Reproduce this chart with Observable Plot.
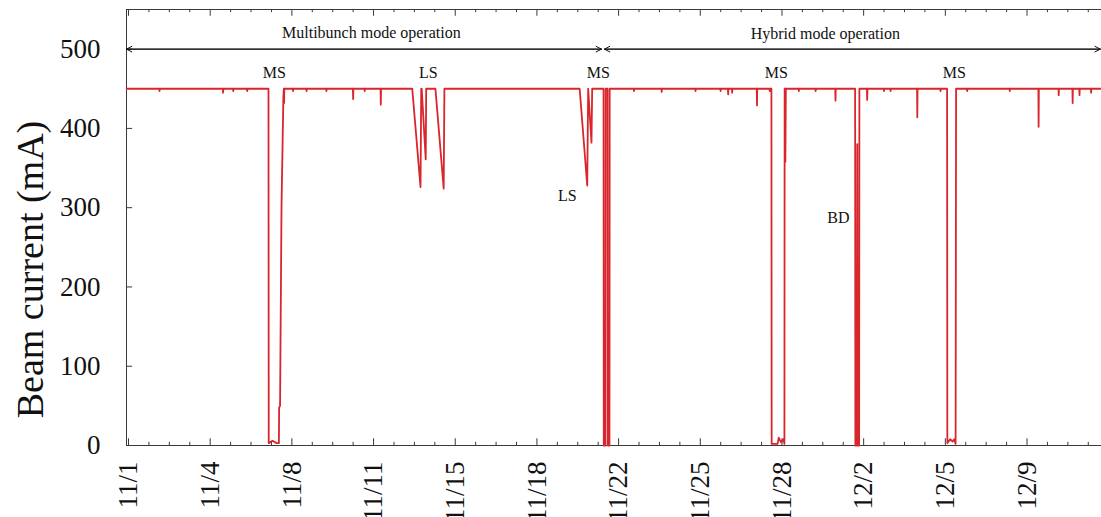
<!DOCTYPE html>
<html>
<head>
<meta charset="utf-8">
<script src="https://cdn.jsdelivr.net/npm/d3@7"></script>
<script src="https://cdn.jsdelivr.net/npm/@observablehq/plot@0.6"></script>
<style>
  html, body { margin: 0; padding: 0; background: #fff; overflow: hidden; }
  #chart svg { display: block; }
</style>
</head>
<body>
<div id="chart"></div>
<script>
// Time in days since 11/1 00:00 (one x-tick step = 38/11 days)
const timeDays = [
  -0.08,
  1.30, 1.31, 1.32,
  3.99, 4.00, 4.01,
  4.42, 4.43, 4.44,
  5.01, 5.02, 5.03,
  5.92, 5.93, 6.09, 6.26, 6.36, 6.37, 6.41, 6.47, 6.55, 6.57, 6.58, 6.59,
  6.95, 6.96, 6.97,
  7.52, 7.53, 7.54,
  8.36, 8.37, 8.38,
  9.49, 9.50, 9.51,
  9.98, 9.99, 10.00,
  10.66, 10.67, 10.68,
  12.00, 12.35, 12.38, 12.40, 12.57, 12.59,
  12.98, 13.33, 13.36,
  19.08, 19.40, 19.44, 19.58, 19.61,
  20.09, 20.10, 20.17, 20.18, 20.26, 20.27, 20.34, 20.35,
  21.37, 21.38, 21.39,
  22.54, 22.55, 22.56,
  23.97, 23.98, 23.99,
  25.03, 25.04, 25.05,
  25.35, 25.36, 25.37,
  25.52, 25.53, 25.54,
  26.57, 26.58, 26.59,
  27.11, 27.12, 27.13,
  27.19, 27.20, 27.45, 27.50, 27.60, 27.70, 27.74, 27.75, 27.77, 27.78, 27.80,
  28.34, 28.35, 28.36,
  29.05, 29.06, 29.07,
  29.89, 29.90, 29.91,
  30.73, 30.74, 30.80, 30.82, 30.84, 30.90, 30.91,
  31.23, 31.24, 31.25,
  31.94, 31.95, 31.96,
  32.22, 32.23, 32.24,
  33.35, 33.36, 33.37,
  34.33, 34.34, 34.35,
  34.62, 34.63, 34.75, 34.85, 34.92, 34.98, 35.00,
  35.46, 35.47, 35.48,
  37.26, 37.27, 37.28,
  38.48, 38.49, 38.50,
  39.33, 39.34, 39.35,
  39.92, 39.93, 39.94,
  40.21, 40.22, 40.23,
  40.70, 40.71, 40.72,
  41.20
];
// Beam current (mA)
const currentmA = [
  450,
  450, 447, 450,
  450, 445, 450,
  450, 447, 450,
  450, 447, 450,
  450, 3, 6, 3, 3, 48, 50, 300, 440, 450, 432, 450,
  450, 447, 450,
  450, 447, 450,
  450, 447, 450,
  450, 437, 450,
  450, 447, 450,
  450, 430, 450,
  450, 326, 450, 450, 361, 450,
  450, 324, 450,
  450, 328, 450, 382, 450,
  450, 0, 0, 450, 450, 0, 0, 450,
  450, 447, 450,
  450, 446, 450,
  450, 447, 450,
  450, 447, 450,
  450, 443, 450,
  450, 445, 450,
  450, 429, 450,
  450, 447, 450,
  450, 2, 2, 10, 4, 8, 2, 450, 450, 358, 450,
  450, 447, 450,
  450, 447, 450,
  450, 435, 450,
  450, 0, 0, 380, 0, 0, 450,
  450, 436, 450,
  450, 447, 450,
  450, 447, 450,
  450, 414, 450,
  450, 447, 450,
  450, 3, 8, 5, 8, 2, 450,
  450, 447, 450,
  450, 447, 450,
  450, 402, 450,
  450, 442, 450,
  450, 432, 450,
  450, 442, 450,
  450, 445, 450,
  450
];

const tickLabels = ["11/1","11/4","11/8","11/11","11/15","11/18","11/22","11/25","11/28","12/2","12/5","12/9"];
const tickStep = 38 / 11;
const yTicks = [0, 100, 200, 300, 400, 500];

// Annotation labels
const eventLabels = ["MS", "LS", "MS", "LS", "MS", "BD", "MS"];
const eventDays   = [6.17, 12.68, 19.87, 18.56, 27.40, 30.02, 34.93];
const eventmA     = [470.5, 470.5, 470.5, 315.4, 470.5, 287.6, 470.5];

const modeLabels = ["Multibunch mode operation", "Hybrid mode operation"];
const modeCenterDays = [10.27, 29.47];
const modemA = [521, 519];
const modeStartDays = [-0.085, 20.13];
const modeEndDays = [20.0, 41.1];
const modeArrowmA = 500;

// ----- build -----
const x0 = -0.085, x1 = 41.15;
const points = timeDays.map((t, i) => ({t, mA: currentmA[i]}));
const majorTicks = tickLabels.map((_, i) => i * tickStep);
const minorTicks = d3.range(0, 48).map(i => i * tickStep / 4).filter(d => d <= x1 && (Math.round(d / tickStep * 4) % 4 !== 0));
const modes = modeLabels.map((label, i) => ({label, cx: modeCenterDays[i], cy: modemA[i], s: modeStartDays[i], e: modeEndDays[i]}));
const arrows = modes.flatMap(m => [{a: m.s, b: m.e}, {a: m.e, b: m.s}]);
const events = eventLabels.map((label, i) => ({label, x: eventDays[i], y: eventmA[i]}));

const axisColor = "#3a3a3a";
const chart = Plot.plot({
  width: 1101,
  height: 517,
  marginLeft: 126,
  marginRight: 0,
  marginTop: 9,
  marginBottom: 72,
  x: {domain: [x0, x1], axis: null},
  y: {domain: [0, 550], axis: null},
  style: {fontFamily: "'Liberation Serif', 'DejaVu Serif', serif", background: "white", color: "#111"},
  marks: [
    // frame lines (top, bottom, left)
    Plot.ruleY([0, 550], {x1: x0, x2: x1, stroke: axisColor, strokeWidth: 1}),
    Plot.ruleX([x0], {y1: 0, y2: 550, stroke: axisColor, strokeWidth: 1}),
    // inward ticks bottom & top
    Plot.ruleX(majorTicks, {x: d => d, y1: 0, y2: 8.5, stroke: axisColor}),
    Plot.ruleX(majorTicks, {x: d => d, y1: 550, y2: 541.5, stroke: axisColor}),
    Plot.ruleX(minorTicks, {x: d => d, y1: 0, y2: 4, stroke: axisColor}),
    Plot.ruleX(minorTicks, {x: d => d, y1: 550, y2: 546, stroke: axisColor}),
    // y ticks
    Plot.ruleY(yTicks, {y: d => d, x1: x0, x2: x0 + 0.26, stroke: axisColor}),
    Plot.text(yTicks, {x: x0, y: d => d, text: d => String(d), textAnchor: "end", dx: -26, fontSize: 27, fill: "#111"}),
    // x tick labels (rotated)
    Plot.text(majorTicks, {x: d => d, y: 0, text: (d, i) => tickLabels[i], rotate: -90, textAnchor: "end", dy: 16, fontSize: 27, fill: "#111"}),
    // y axis title
    Plot.text(["Beam current (mA)"], {x: -4.15, y: 222, rotate: -90, fontSize: 38, fill: "#111"}),
    // mode arrows
    Plot.arrow(arrows, {x1: "a", x2: "b", y1: modeArrowmA, y2: modeArrowmA, stroke: "#111", strokeWidth: 1, headLength: 9, headAngle: 55}),
    Plot.text(modes, {x: "cx", y: "cy", text: "label", fontSize: 16, fill: "#111"}),
    // data line
    Plot.line(points, {x: "t", y: "mA", stroke: "#d8262c", strokeWidth: 1.8, curve: "linear"}),
    // event labels
    Plot.text(events, {x: "x", y: "y", text: "label", fontSize: 16, fill: "#111"})
  ]
});
document.getElementById("chart").appendChild(chart);
</script>
</body>
</html>
